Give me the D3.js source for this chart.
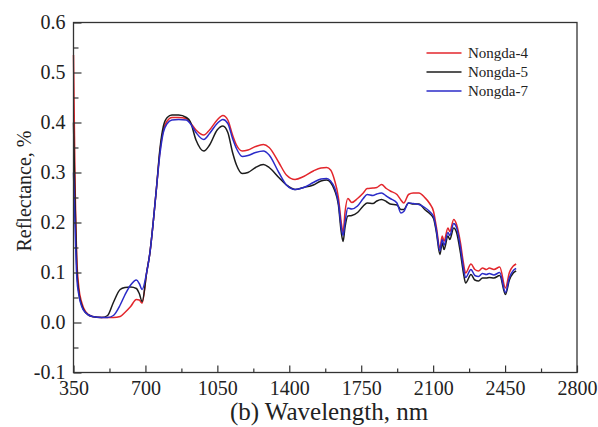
<!DOCTYPE html>
<html><head><meta charset="utf-8">
<script src="https://cdn.jsdelivr.net/npm/d3@7"></script>
<style>body{margin:0;background:#fff}svg{display:block}</style>
</head><body><svg id="c" width="598" height="427"></svg>
<script>
const wavelengths = [350,357,366,376,390,408,441,488,516,544,577,600,628,656,670,684,706,722,739,754,770,787,806,829,862,899,918,946,984,1012,1049,1077,1101,1124,1143,1171,1199,1236,1274,1302,1349,1386,1428,1470,1517,1554,1582,1601,1620,1639,1653,1662,1671,1685,1704,1732,1760,1779,1807,1826,1849,1872,1891,1924,1943,1957,1980,2003,2031,2059,2083,2102,2116,2133,2144,2153,2172,2181,2200,2214,2233,2247,2258,2284,2303,2321,2340,2359,2373,2396,2424,2452,2471,2490,2504];
const nongda4 = [0.535,0.30,0.13,0.07,0.04,0.022,0.012,0.010,0.010,0.010,0.012,0.020,0.032,0.046,0.045,0.039,0.10,0.14,0.205,0.27,0.34,0.385,0.403,0.41,0.41,0.408,0.40,0.385,0.375,0.385,0.405,0.414,0.405,0.375,0.355,0.343,0.345,0.352,0.356,0.35,0.32,0.295,0.286,0.292,0.303,0.309,0.310,0.305,0.285,0.25,0.20,0.18,0.22,0.248,0.24,0.248,0.259,0.268,0.269,0.27,0.276,0.268,0.263,0.256,0.245,0.239,0.256,0.259,0.259,0.25,0.238,0.222,0.19,0.149,0.173,0.163,0.189,0.182,0.206,0.196,0.159,0.12,0.099,0.117,0.106,0.103,0.109,0.106,0.109,0.106,0.111,0.069,0.10,0.113,0.117];
const nongda5 = [0.40,0.25,0.11,0.06,0.035,0.02,0.012,0.010,0.014,0.040,0.066,0.070,0.071,0.068,0.058,0.042,0.10,0.14,0.205,0.27,0.345,0.392,0.41,0.415,0.415,0.41,0.402,0.365,0.343,0.355,0.385,0.393,0.38,0.34,0.315,0.298,0.300,0.31,0.316,0.31,0.29,0.275,0.266,0.27,0.275,0.283,0.285,0.28,0.265,0.235,0.18,0.162,0.19,0.213,0.214,0.22,0.233,0.239,0.238,0.243,0.246,0.242,0.237,0.235,0.226,0.226,0.239,0.237,0.237,0.226,0.218,0.208,0.18,0.136,0.159,0.146,0.173,0.166,0.189,0.18,0.139,0.10,0.079,0.096,0.085,0.083,0.089,0.089,0.09,0.089,0.094,0.056,0.085,0.099,0.103];
const nongda7 = [0.30,0.20,0.09,0.055,0.032,0.02,0.012,0.010,0.010,0.014,0.035,0.055,0.075,0.085,0.078,0.066,0.10,0.14,0.205,0.27,0.335,0.38,0.398,0.405,0.406,0.405,0.398,0.38,0.366,0.378,0.398,0.406,0.398,0.368,0.348,0.332,0.334,0.34,0.343,0.335,0.30,0.275,0.266,0.27,0.28,0.287,0.288,0.283,0.27,0.24,0.19,0.174,0.20,0.229,0.227,0.233,0.248,0.256,0.254,0.257,0.259,0.253,0.248,0.239,0.219,0.222,0.239,0.238,0.236,0.23,0.222,0.212,0.184,0.143,0.166,0.155,0.18,0.174,0.198,0.19,0.15,0.11,0.09,0.106,0.094,0.092,0.098,0.096,0.098,0.095,0.10,0.06,0.09,0.104,0.108];
const seriesNames = ["Nongda-4","Nongda-5","Nongda-7"];
const seriesColors = ["#e3262c","#1c1c1c","#2b2bc8"];
const xTicks = [350,700,1050,1400,1750,2100,2450,2800];
const yTicks = [-0.1,0.0,0.1,0.2,0.3,0.4,0.5,0.6];
const xLabel = "(b) Wavelength, nm";
const yLabel = "Reflectance, %";

const FONT = '"Liberation Serif"';
const svg = d3.select("#c");
const L=73.5, R=577, T=22.5, B=372.5;
const x = d3.scaleLinear().domain([350,2800]).range([L,R]);
const y = d3.scaleLinear().domain([-0.1,0.6]).range([B,T]);
const values = [nongda4,nongda5,nongda7];

const line = d3.line().x(d=>x(d[0])).y(d=>y(d[1])).curve(d3.curveMonotoneX);
values.forEach((vals,i)=>{
  svg.append("path").datum(wavelengths.map((w,j)=>[w,vals[j]]))
    .attr("d",line).attr("fill","none").attr("stroke",seriesColors[i]).attr("stroke-width",1.5);
});

svg.append("rect").attr("x",L).attr("y",T).attr("width",R-L).attr("height",B-T)
  .attr("fill","none").attr("stroke","#333").attr("stroke-width",1.3);

const fmtY = d => d3.format(".1f")(d).replace("\u2212","-");
const xMinor = xTicks.slice(0,-1).map(v=>v+175);
const yMinor = yTicks.slice(0,-1).map(v=>v+0.05);
const gx = svg.append("g").attr("transform",`translate(0,${B})`)
  .call(d3.axisBottom(x).tickValues(xTicks).tickSize(-7).tickFormat(d3.format("d")).tickPadding(8));
const gxm = svg.append("g").attr("transform",`translate(0,${B})`)
  .call(d3.axisBottom(x).tickValues(xMinor).tickSize(-4).tickFormat(""));
const gy = svg.append("g").attr("transform",`translate(${L},0)`)
  .call(d3.axisLeft(y).tickValues(yTicks).tickSize(-8).tickFormat(fmtY).tickPadding(8));
const gym = svg.append("g").attr("transform",`translate(${L},0)`)
  .call(d3.axisLeft(y).tickValues(yMinor).tickSize(-5).tickFormat(""));
[gx,gxm,gy,gym].forEach(g=>{
  g.attr("font-family", null).attr("font-size", null);
  g.select(".domain").remove();
  g.selectAll("line").attr("stroke","#333").attr("stroke-width",1.2);
  g.selectAll("text").attr("fill","#222").style("font-family", FONT).style("font-size","20px");
});

svg.append("text").attr("x",329).attr("y",420).attr("text-anchor","middle").attr("fill","#222")
  .style("font-family", FONT).style("font-size","25px").text(xLabel);
svg.append("text").attr("transform","translate(31,191) rotate(-90)").attr("text-anchor","middle").attr("fill","#222")
  .style("font-family", FONT).style("font-size","20px").text(yLabel);

const lg = svg.append("g");
seriesNames.forEach((n,i)=>{
  const yy = 53 + i*19;
  lg.append("line").attr("x1",426.5).attr("x2",461.5).attr("y1",yy).attr("y2",yy)
    .attr("stroke",seriesColors[i]).attr("stroke-width",1.5);
  lg.append("text").attr("x",468).attr("y",yy).attr("dy","0.35em").attr("fill","#222")
    .style("font-family", FONT).style("font-size","15px").text(n);
});
</script></body></html>
